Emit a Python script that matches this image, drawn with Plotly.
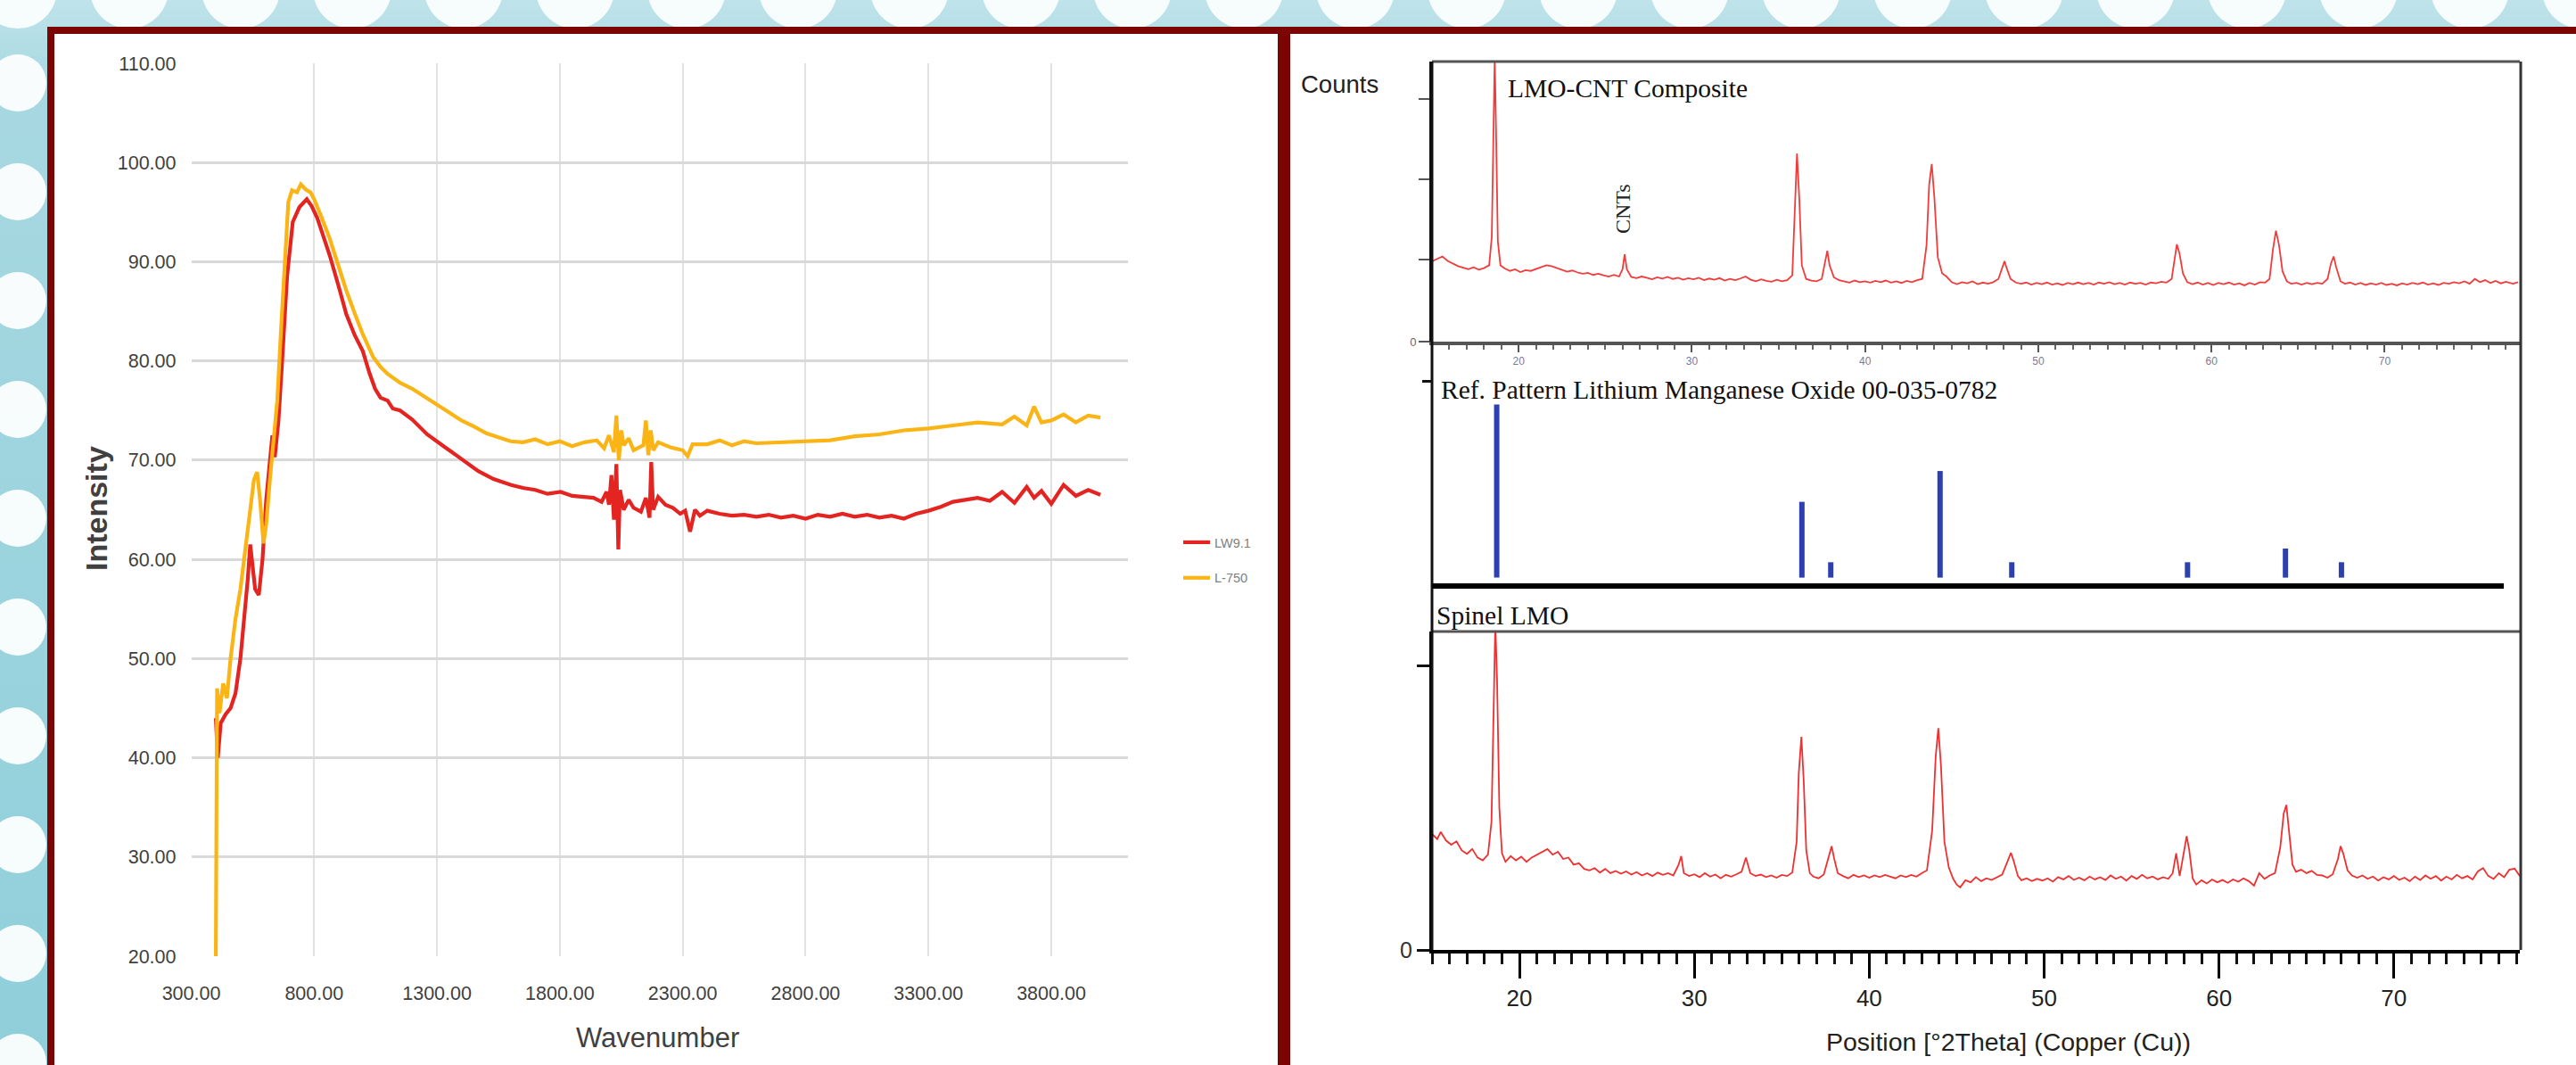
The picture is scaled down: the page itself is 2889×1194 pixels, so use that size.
import base64
import plotly.graph_objects as go

W, H = 2889, 1194

# ---------------- FTIR data (left panel) ----------------
lw91_x = [400, 408, 420, 440, 460, 480, 500, 515, 530, 540, 550, 560, 575, 590, 605, 620, 630, 640, 655, 670,
          690, 713, 740, 770, 790, 813, 840, 864, 900, 931, 965, 998, 1025, 1048, 1070, 1099, 1120, 1150, 1199, 1260,
          1333, 1400, 1468, 1530, 1602, 1650, 1700, 1750, 1803, 1850, 1900, 1937, 1970, 1990, 2000, 2010, 2020, 2030,
          2038, 2045, 2060, 2080, 2100, 2130, 2150, 2165, 2172, 2180, 2200, 2230, 2260, 2290, 2310, 2330, 2350, 2370,
          2400, 2450, 2500, 2550, 2600, 2650, 2700, 2750, 2800, 2850, 2900, 2950, 3000, 3050, 3100, 3150, 3200, 3250,
          3300, 3350, 3400, 3450, 3500, 3550, 3600, 3650, 3700, 3730, 3760, 3800, 3850, 3900, 3950, 4000]
lw91_y = [44.0, 40.0, 43.5, 44.4, 45.0, 46.5, 50.0, 53.7, 58.0, 61.5, 59.5, 57.0, 56.4, 60.0, 66.0, 70.0, 72.5, 70.3, 74.0, 80.0,
          88.5, 94.0, 95.5, 96.3, 95.6, 94.4, 92.5, 90.6, 87.5, 84.7, 82.6, 81.0, 78.8, 77.2, 76.3, 76.0, 75.2, 75.0, 74.1, 72.6,
          71.3, 70.1, 68.9, 68.1, 67.5, 67.2, 67.0, 66.6, 66.8, 66.4, 66.3, 66.2, 65.8, 66.8, 65.5, 68.5, 64.0, 69.6,
          61.0, 67.0, 65.0, 66.0, 65.2, 64.8, 66.2, 64.2, 69.8, 65.0, 66.3, 65.5, 65.2, 64.6, 64.9, 62.8, 65.0, 64.4,
          64.9, 64.6, 64.4, 64.5, 64.3, 64.5, 64.2, 64.4, 64.1, 64.5, 64.3, 64.6, 64.3, 64.5, 64.2, 64.4, 64.1, 64.6,
          64.9, 65.3, 65.8, 66.0, 66.2, 65.9, 66.8, 65.7, 67.3, 66.2, 66.9, 65.6, 67.5, 66.4, 67.0, 66.5]

l750_x = [400, 405, 415, 430, 445, 460, 480, 500, 520, 540, 555, 568, 580, 594, 605, 620, 635, 650, 665, 680,
          695, 710, 730, 746, 765, 785, 800, 830, 864, 900, 931, 965, 998, 1040, 1070, 1099, 1150, 1199, 1260, 1333,
          1400, 1450, 1501, 1550, 1600, 1650, 1700, 1750, 1800, 1850, 1900, 1950, 1980, 2000, 2020, 2030, 2040, 2050,
          2060, 2080, 2100, 2140, 2150, 2160, 2170, 2180, 2200, 2250, 2300, 2320, 2340, 2400, 2450, 2500, 2550, 2600,
          2700, 2800, 2900, 3000, 3100, 3200, 3300, 3400, 3500, 3600, 3650, 3700, 3730, 3760, 3800, 3850, 3900, 3950, 4000]
l750_y = [20.0, 47.0, 44.5, 47.5, 46.0, 50.0, 54.0, 57.0, 61.0, 65.0, 68.0, 68.8, 66.0, 61.6, 63.5, 68.0, 72.5, 76.0, 83.0, 90.0,
          96.0, 97.2, 97.0, 97.8, 97.3, 97.0, 96.3, 94.5, 92.3, 89.5, 87.1, 84.8, 82.7, 80.4, 79.4, 78.7, 77.8, 77.2, 76.2, 75.1,
          74.0, 73.4, 72.7, 72.3, 71.9, 71.8, 72.1, 71.6, 71.9, 71.4, 71.8, 72.0, 71.2, 72.5, 70.8, 74.5, 70.0, 73.0,
          71.5, 72.2, 71.0, 71.5, 74.0, 70.5, 73.0, 71.0, 71.8, 71.3, 71.0, 70.4, 71.6, 71.6, 72.0, 71.5, 71.9, 71.7,
          71.8, 71.9, 72.0, 72.4, 72.6, 73.0, 73.2, 73.5, 73.8, 73.6, 74.4, 73.5, 75.4, 73.8, 74.0, 74.6, 73.8, 74.5, 74.3]

ftir_series = ["LW9.1", "L-750"]

# ---------------- XRD data (right panel) ----------------
comp_x = [15.0, 15.3, 15.6, 15.9, 16.2, 16.5, 16.8, 17.1, 17.4, 17.7, 18.0, 18.3, 18.45, 18.55, 18.62, 18.7, 18.8, 18.95,
          19.2, 19.5, 19.8, 20.1, 20.4, 20.7, 21.0, 21.3, 21.6, 21.9, 22.2, 22.5, 22.8, 23.1, 23.4, 23.7, 24.0, 24.3,
          24.6, 24.9, 25.2, 25.5, 25.8, 26.0, 26.12, 26.25, 26.5, 26.8, 27.1, 27.4, 27.7, 28.0, 28.3, 28.6, 28.9, 29.2,
          29.5, 29.8, 30.1, 30.4, 30.7, 31.0, 31.3, 31.6, 31.9, 32.2, 32.5, 32.8, 33.1, 33.4, 33.7, 34.0, 34.3, 34.6,
          34.9, 35.2, 35.5, 35.8, 35.95, 36.07, 36.2, 36.35, 36.6, 36.9, 37.2, 37.5, 37.7, 37.82, 37.95, 38.2, 38.5,
          38.8, 39.1, 39.4, 39.7, 40.0, 40.3, 40.6, 40.9, 41.2, 41.5, 41.8, 42.1, 42.4, 42.7, 43.0, 43.3, 43.55, 43.7,
          43.85, 44.0, 44.2, 44.45, 44.7, 45.0, 45.3, 45.6, 45.9, 46.2, 46.5, 46.8, 47.1, 47.4, 47.7, 47.9, 48.05, 48.2,
          48.4, 48.7, 49.0, 49.3, 49.6, 49.9, 50.2, 50.5, 50.8, 51.1, 51.4, 51.7, 52.0, 52.3, 52.6, 52.9, 53.2, 53.5,
          53.8, 54.1, 54.4, 54.7, 55.0, 55.3, 55.6, 55.9, 56.2, 56.5, 56.8, 57.1, 57.4, 57.7, 57.85, 58.0, 58.15, 58.35,
          58.6, 58.9, 59.2, 59.5, 59.8, 60.1, 60.4, 60.7, 61.0, 61.3, 61.6, 61.9, 62.2, 62.5, 62.8, 63.1, 63.35, 63.55,
          63.72, 63.9, 64.1, 64.35, 64.6, 64.9, 65.2, 65.5, 65.8, 66.1, 66.4, 66.7, 66.9, 67.05, 67.2, 67.45, 67.7,
          68.0, 68.3, 68.6, 68.9, 69.2, 69.5, 69.8, 70.1, 70.4, 70.7, 71.0, 71.3, 71.6, 71.9, 72.2, 72.5, 72.8, 73.1,
          73.4, 73.7, 74.0, 74.3, 74.6, 74.9, 75.2, 75.5, 75.8, 76.1, 76.4, 76.7, 77.0, 77.4, 77.7]
comp_y = [2000, 2060, 2120, 2010, 1950, 1880, 1840, 1800, 1850, 1790, 1830, 1900, 2600, 6000, 7100, 5200, 2500, 1900,
          1820, 1760, 1800, 1730, 1780, 1760, 1810, 1860, 1900, 1880, 1830, 1790, 1740, 1770, 1720, 1690, 1710, 1660,
          1690, 1650, 1620, 1660, 1620, 1800, 2170, 1800, 1610, 1580, 1620, 1590, 1550, 1600, 1570, 1610, 1560, 1590,
          1540, 1580, 1550, 1590, 1530, 1570, 1540, 1580, 1520, 1560, 1530, 1570, 1620, 1540, 1500, 1550, 1510, 1490,
          1540, 1500, 1530, 1650, 3300, 4680, 3600, 1900, 1560, 1520, 1500, 1560, 2000, 2260, 1900, 1600, 1530,
          1500, 1470, 1520, 1480, 1500, 1470, 1510, 1480, 1520, 1470, 1500, 1460, 1510, 1480, 1530, 1560, 2400, 3900,
          4420, 3600, 2100, 1700, 1620, 1480, 1430, 1480, 1450, 1500, 1430, 1470, 1440, 1480, 1560, 1800, 2000, 1800,
          1560, 1470, 1440, 1470, 1420, 1460, 1430, 1470, 1420, 1450, 1410, 1460, 1430, 1470, 1430, 1460, 1420, 1470,
          1440, 1480, 1430, 1460, 1420, 1470, 1440, 1460, 1420, 1470, 1450, 1490, 1470, 1560, 2000, 2420, 2200, 1700,
          1480, 1430, 1470, 1420, 1460, 1410, 1460, 1430, 1470, 1420, 1450, 1400, 1460, 1420, 1480, 1470, 1560, 2300,
          2760, 2400, 1750, 1500, 1440, 1460, 1420, 1460, 1430, 1460, 1440, 1560, 1950, 2120, 1850, 1500, 1440,
          1470, 1420, 1460, 1410, 1450, 1420, 1460, 1410, 1440, 1400, 1450, 1420, 1460, 1430, 1470, 1420, 1450, 1410,
          1460, 1440, 1480, 1450, 1500, 1440, 1560, 1480, 1530, 1460, 1510, 1450, 1490, 1440, 1480]

ref_pos = [18.7, 36.15, 37.8, 44.05, 48.15, 58.2, 63.8, 67.0]
ref_int = [100, 43.8, 8.9, 61.6, 8.9, 8.9, 16.8, 8.9]

spinel_x = [15.0, 15.3, 15.5, 15.8, 16.1, 16.4, 16.7, 17.0, 17.3, 17.6, 17.9, 18.2, 18.4, 18.5, 18.62, 18.72, 18.85, 19.0,
            19.2, 19.5, 19.8, 20.1, 20.4, 20.7, 21.0, 21.3, 21.6, 21.9, 22.2, 22.5, 22.8, 23.1, 23.4, 23.7, 24.0, 24.3,
            24.6, 24.9, 25.2, 25.5, 25.8, 26.1, 26.4, 26.7, 27.0, 27.3, 27.6, 27.9, 28.2, 28.5, 28.8, 29.1, 29.25, 29.4,
            29.7, 30.0, 30.3, 30.6, 30.9, 31.2, 31.5, 31.8, 32.1, 32.4, 32.7, 32.95, 33.2, 33.5, 33.8, 34.1, 34.4, 34.7,
            35.0, 35.3, 35.6, 35.85, 35.97, 36.12, 36.25, 36.4, 36.6, 36.8, 37.1, 37.4, 37.65, 37.85, 38.0, 38.2, 38.5,
            38.8, 39.1, 39.4, 39.7, 40.0, 40.3, 40.6, 40.9, 41.2, 41.5, 41.8, 42.1, 42.4, 42.7, 43.0, 43.3, 43.6, 43.8,
            43.95, 44.1, 44.3, 44.55, 44.8, 45.0, 45.2, 45.5, 45.8, 46.1, 46.4, 46.7, 47.0, 47.3, 47.6, 47.9, 48.1, 48.25,
            48.5, 48.7, 49.0, 49.3, 49.6, 49.9, 50.2, 50.5, 50.8, 51.1, 51.4, 51.7, 52.0, 52.3, 52.6, 52.9, 53.2, 53.5,
            53.8, 54.1, 54.4, 54.7, 55.0, 55.3, 55.6, 55.9, 56.2, 56.5, 56.8, 57.1, 57.35, 57.55, 57.75, 57.95, 58.15,
            58.3, 58.5, 58.7, 59.0, 59.3, 59.6, 59.9, 60.2, 60.5, 60.8, 61.1, 61.4, 61.7, 62.0, 62.3, 62.6, 62.9, 63.2,
            63.5, 63.7, 63.85, 64.0, 64.2, 64.4, 64.7, 65.0, 65.3, 65.6, 65.9, 66.2, 66.5, 66.8, 66.95, 67.1, 67.35,
            67.6, 67.9, 68.2, 68.5, 68.8, 69.1, 69.4, 69.7, 70.0, 70.3, 70.6, 70.9, 71.2, 71.5, 71.8, 72.1, 72.4, 72.7,
            73.0, 73.3, 73.6, 73.9, 74.2, 74.5, 74.8, 75.1, 75.4, 75.7, 76.0, 76.3, 76.6, 76.9, 77.2]
spinel_y = [4080, 3900, 4150, 3850, 3700, 3820, 3500, 3380, 3550, 3250, 3150, 3350, 4500, 8000, 11500, 9500, 5000, 3400,
            3100, 3300, 3150, 3280, 3100, 3250, 3350, 3450, 3550, 3350, 3450, 3200, 3250, 3000, 3050, 2850, 2800, 2880,
            2720, 2850, 2700, 2780, 2680, 2760, 2650, 2740, 2620, 2700, 2600, 2720, 2640, 2700, 2620, 3000, 3300, 2700,
            2600, 2660, 2560, 2700, 2580, 2650, 2520, 2640, 2580, 2660, 2750, 3250, 2700, 2600, 2650, 2560, 2620, 2540,
            2640, 2600, 2720, 3800, 6200, 7500, 6000, 3500, 2700, 2580, 2520, 2650, 3200, 3650, 3200, 2700, 2600,
            2520, 2640, 2560, 2620, 2540, 2620, 2560, 2640, 2580, 2520, 2620, 2560, 2640, 2580, 2700, 2800, 4200, 6800,
            7800, 6500, 3800, 2900, 2500, 2300, 2200, 2450, 2380, 2560, 2420, 2520, 2460, 2560, 2650, 3100, 3420, 3150,
            2600, 2450, 2520, 2420, 2500, 2440, 2520, 2400, 2560, 2480, 2600, 2460, 2540, 2450, 2580, 2480, 2560, 2460,
            2620, 2500, 2580, 2440, 2600, 2500, 2640, 2520, 2580, 2480, 2560, 2500, 2700, 3400, 2600, 3300, 4000,
            3500, 2500, 2300, 2450, 2340, 2480, 2380, 2460, 2360, 2480, 2400, 2520, 2420, 2260, 2700, 2500, 2620, 2700,
            3600, 4800, 5100, 4200, 3000, 2750, 2820, 2700, 2780, 2640, 2620, 2540, 2660, 3200, 3650, 3400, 2800,
            2620, 2540, 2620, 2500, 2580, 2440, 2560, 2480, 2600, 2460, 2540, 2420, 2580, 2460, 2620, 2500, 2600, 2440,
            2580, 2480, 2640, 2520, 2600, 2480, 2760, 2880, 2600, 2500, 2700, 2560, 2820, 2860, 2600]

panel_labels = ["LMO-CNT Composite", "Ref. Pattern Lithium Manganese Oxide 00-035-0782", "Spinel LMO"]


def px(x):
    return x / W


def py(y):
    return 1 - y / H


SANS = "Liberation Sans, Arial, sans-serif"
SERIF = "Liberation Serif, Times New Roman, serif"

# ---------------- decorative background (self-contained SVG, clipped to the page) ----------------
circ = []
for i in range(24):
    circ.append('<circle cx="%d" cy="-12" r="44" fill="white" fill-opacity="0.88"/>' % (20 + 125 * i))
for i in range(10):
    circ.append('<circle cx="20" cy="%d" r="32" fill="white" fill-opacity="0.92"/>' % (93 + 122 * i))
bg_svg = ('<svg xmlns="http://www.w3.org/2000/svg" width="%d" height="%d" viewBox="0 0 %d %d">'
          '<defs><linearGradient id="g" x1="0" y1="0" x2="0" y2="1">'
          '<stop offset="0" stop-color="#bfe3ea"/><stop offset="0.08" stop-color="#a7d8e1"/>'
          '<stop offset="1" stop-color="#8fcfda"/></linearGradient></defs>'
          '<rect width="100%%" height="100%%" fill="url(#g)"/>%s</svg>') % (W, H, W, H, "".join(circ))
bg_uri = "data:image/svg+xml;base64," + base64.b64encode(bg_svg.encode()).decode()

fig = go.Figure()

fig.add_trace(go.Scatter(x=lw91_x, y=lw91_y, mode="lines", name=ftir_series[0], legendgroup="a",
                         line=dict(color="#e32420", width=4.2), xaxis="x", yaxis="y"))
fig.add_trace(go.Scatter(x=l750_x, y=l750_y, mode="lines", name=ftir_series[1], legendgroup="b",
                         line=dict(color="#fbb415", width=4.2), xaxis="x", yaxis="y"))
fig.add_trace(go.Scatter(x=comp_x, y=comp_y, mode="lines", showlegend=False,
                         line=dict(color="#f23b3b", width=1.8), xaxis="x2", yaxis="y2"))
sx, sy = [], []
for p, h in zip(ref_pos, ref_int):
    sx += [p, p, None]
    sy += [0, h, None]
fig.add_trace(go.Scatter(x=sx, y=sy, mode="lines", showlegend=False,
                         line=dict(color="#2c40b0", width=6), xaxis="x3", yaxis="y3"))
fig.add_trace(go.Scatter(x=spinel_x, y=spinel_y, mode="lines", showlegend=False,
                         line=dict(color="#f03030", width=1.8), xaxis="x4", yaxis="y4"))

xd = [px(1606), px(2826)]

shapes = []
shapes.append(dict(type="rect", xref="paper", yref="paper", layer="below",
                   x0=px(53), x1=1, y0=0, y1=py(30), fillcolor="white", line=dict(width=0)))
for (x0, x1, y0, y1) in [(53, 2889, 30, 38), (53, 61, 30, 1194), (1433, 1447, 30, 1194)]:
    shapes.append(dict(type="rect", xref="paper", yref="paper", layer="below",
                       x0=px(x0), x1=px(x1), y0=py(y1), y1=py(y0),
                       fillcolor="#7a0502", line=dict(width=0)))
shapes.append(dict(type="line", xref="paper", yref="paper", x0=px(1606), x1=px(2826), y0=py(69), y1=py(69),
                   line=dict(color="#555555", width=3)))
shapes.append(dict(type="line", xref="paper", yref="paper", x0=px(1606), x1=px(2826), y0=py(708), y1=py(708),
                   line=dict(color="#555555", width=3)))
shapes.append(dict(type="line", xref="paper", yref="paper", x0=px(1606), x1=px(1606), y0=py(69), y1=py(1065),
                   line=dict(color="#111111", width=3)))
shapes.append(dict(type="line", xref="paper", yref="paper", x0=px(2827), x1=px(2827), y0=py(69), y1=py(1065),
                   line=dict(color="#333333", width=3)))
# thick separator under the reference pattern
shapes.append(dict(type="line", xref="paper", yref="paper", x0=px(1606), x1=px(2808), y0=py(657), y1=py(657),
                   line=dict(color="#000000", width=6)))


def ann(text, x, y, size, family, color="#222222", xanchor="center", yanchor="middle", **kw):
    d = dict(text=text, x=px(x), y=py(y), xref="paper", yref="paper", showarrow=False,
             xanchor=xanchor, yanchor=yanchor, font=dict(family=family, size=size, color=color))
    d.update(kw)
    return d


annotations = [
    ann("<b>Intensity</b>", 108, 570, 34, SANS, "#404040", textangle=-90),
    ann("Wavenumber", 738, 1163, 31, SANS, "#404040"),
    ann("Counts", 1457, 95, 27.5, SANS, "#222222", xanchor="left"),
    ann(panel_labels[0], 1689, 99, 29.5, SERIF, "#111111", xanchor="left"),
    ann("CNTs", 1820, 234, 24, SERIF, "#222222", textangle=-90),
    ann(panel_labels[1], 1614, 437, 29.5, SERIF, "#111111", xanchor="left"),
    ann(panel_labels[2], 1609, 690, 29.5, SERIF, "#111111", xanchor="left"),
    ann("Position [°2Theta] (Copper (Cu))", 2252, 1168, 28.5, SANS, "#222222"),
]

fig.update_layout(
    width=W, height=H, autosize=False,
    margin=dict(l=0, r=0, t=0, b=0, pad=0, autoexpand=False),
    paper_bgcolor="#a9d9e3", plot_bgcolor="rgba(0,0,0,0)",
    images=[dict(source=bg_uri, xref="paper", yref="paper", x=0, y=1, sizex=1, sizey=1,
                 xanchor="left", yanchor="top", sizing="stretch", layer="below")],
    shapes=shapes, annotations=annotations,
    showlegend=True,
    legend=dict(x=px(1322), y=py(592), xanchor="left", yanchor="top", bgcolor="rgba(0,0,0,0)",
                font=dict(family=SANS, size=14.5, color="#7f7f7f"), tracegroupgap=18),
    xaxis=dict(domain=[px(214.5), px(1265)], range=[300, 4112], tick0=300, dtick=500, tickformat=".2f",
               showgrid=True, gridcolor="#e2e2e2", gridwidth=1.5, zeroline=False, showline=False, ticks="",
               tickfont=dict(family=SANS, size=21.5, color="#404040"), ticklabelstandoff=26, anchor="y"),
    yaxis=dict(domain=[py(1072), py(71)], range=[20, 110], dtick=10, tickformat=".2f",
               showgrid=True, gridcolor="#d9d9d9", gridwidth=2.5, zeroline=False, showline=False, ticks="",
               tickfont=dict(family=SANS, size=21.5, color="#404040"), ticklabelstandoff=16, anchor="x"),
    xaxis2=dict(domain=xd, range=[15, 77.8], anchor="y2", showline=True, linecolor="#555555", linewidth=4,
                showgrid=False, zeroline=False, ticks="outside", tickvals=[20, 30, 40, 50, 60, 70],
                ticklen=8, tickwidth=2, tickcolor="#555555",
                minor=dict(dtick=1, ticks="outside", ticklen=5, tickwidth=1.5, tickcolor="#666666"),
                tickfont=dict(family=SANS, size=12, color="#7a7a9a")),
    yaxis2=dict(domain=[py(383), py(69)], range=[0, 6970], anchor="x2", showline=True, linecolor="#111111",
                linewidth=3, showgrid=False, zeroline=False, ticks="outside", tickvals=[0, 2036, 4034, 6032],
                ticktext=["0", "", "", ""], ticklen=12, tickwidth=2, tickcolor="#555555",
                tickfont=dict(family=SANS, size=13, color="#666666")),
    xaxis3=dict(domain=xd, range=[15, 77.2], anchor="y3", showline=False,
                showgrid=False, zeroline=False, ticks="", showticklabels=False),
    yaxis3=dict(domain=[py(657), py(420)], range=[-4.85, 117.3], anchor="x3", showline=False, showgrid=False,
                zeroline=False, ticks="outside", tickvals=[113.2], ticklen=10, tickwidth=3, tickcolor="#111111",
                showticklabels=False),
    xaxis4=dict(domain=xd, range=[15, 77.2], anchor="y4", showline=True, linecolor="#000000", linewidth=4,
                showgrid=False, zeroline=False, ticks="outside", tickvals=[20, 30, 40, 50, 60, 70],
                ticklen=28, tickwidth=3, tickcolor="#000000",
                minor=dict(dtick=1, ticks="outside", ticklen=12, tickwidth=2.5, tickcolor="#111111"),
                tickfont=dict(family=SANS, size=26, color="#222222")),
    yaxis4=dict(domain=[py(1065), py(708)], range=[0, 11200], anchor="x4", showline=True, linecolor="#000000",
                linewidth=3, showgrid=False, zeroline=False, ticks="outside", tickvals=[0, 10000],
                ticktext=["0", ""], ticklen=14, tickwidth=3, tickcolor="#111111",
                tickfont=dict(family=SANS, size=25, color="#333333")),
)

fig.write_html("out.html", config={"displayModeBar": False},
               post_script="document.body.style.margin='0';document.body.style.overflow='hidden';")
